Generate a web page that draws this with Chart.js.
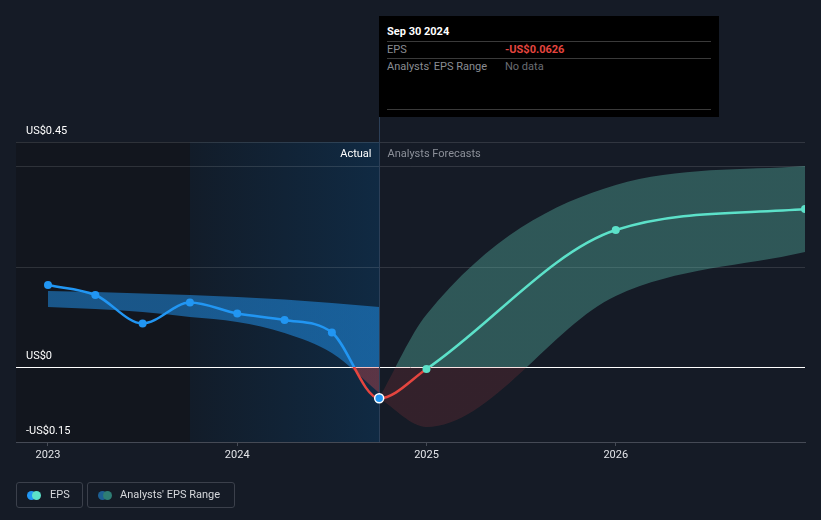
<!DOCTYPE html>
<html><head><meta charset="utf-8">
<script src="https://cdn.jsdelivr.net/npm/chart.js@4.4.1/dist/chart.umd.min.js"></script>
<style>
html,body{margin:0;padding:0;background:#151b26;width:821px;height:520px;overflow:hidden;font-family:Roboto,"Noto Sans",sans-serif;}
#wrap{position:relative;width:821px;height:520px;}
canvas{position:absolute;left:0;top:0;}
#tip{position:absolute;left:379px;top:16px;width:340px;height:101px;background:#000;color:#fff;font-size:11px;}
#tip .t{position:absolute;left:8px;top:9px;font-weight:bold;}
#tip .ln{position:absolute;left:8px;width:324px;height:1px;background:#3a3a3a;}
#tip .k{position:absolute;left:8px;color:#8a8d93;}
#tip .v{position:absolute;left:126px;}
.leg{position:absolute;top:482px;height:26px;border:1px solid #3b404b;border-radius:3px;box-sizing:border-box;color:#d6d8dc;font-size:11px;line-height:24px;}
.dot{position:absolute;top:8px;width:9px;height:9px;border-radius:50%;}
</style></head>
<body><div id="wrap">
<canvas id="c" width="821" height="520"></canvas>
<div id="tip">
 <div class="t">Sep 30 2024</div>
 <div class="ln" style="top:25px"></div>
 <div class="k" style="top:27px">EPS</div><div class="v" style="top:27px;color:#e5453f;font-weight:bold">-US$0.0626</div>
 <div class="ln" style="top:42px"></div>
 <div class="k" style="top:44px">Analysts' EPS Range</div><div class="v" style="top:44px;color:#6a6d73">No data</div>
 <div class="ln" style="top:93px"></div>
</div>
<div class="leg" style="left:16px;width:67px;"><span class="dot" style="left:10px;background:#2196f3"></span><span class="dot" style="left:15px;background:#5ce1c9"></span><span style="position:absolute;left:33px">EPS</span></div>
<div class="leg" style="left:87px;width:148px;"><span class="dot" style="left:10px;background:#1d5f93"></span><span class="dot" style="left:15px;background:#2e7d74"></span><span style="position:absolute;left:32px">Analysts' EPS Range</span></div>
</div>
<script>
const epsX = [2023.0, 2023.25, 2023.5, 2023.75, 2024.0, 2024.25, 2024.5, 2024.75, 2025.0, 2026.0, 2027.0];
const epsValues = [0.164, 0.144, 0.087, 0.129, 0.107, 0.094, 0.069, -0.0626, -0.004, 0.274, 0.316];
const pastX = [2023.0, 2023.25, 2023.5, 2023.75, 2024.0, 2024.25, 2024.5, 2024.75];
const pastBandUpper = [0.152, 0.150, 0.147, 0.144, 0.140, 0.135, 0.128, 0.120];
const pastBandLower = [0.120, 0.116, 0.110, 0.100, 0.090, 0.068, 0.028, -0.052];
const foreX = [2024.75, 2025.0, 2026.0, 2027.0];
const foreUpper = [-0.0626, 0.105, 0.364, 0.402];
const foreLower = [-0.0626, -0.120, 0.142, 0.230];
const yearTicks = [2023, 2024, 2025, 2026];
const yTicks = [-0.15, 0, 0.2, 0.4, 0.45];
const yLabelTicks = [-0.15, 0, 0.45];
const splitX = 2024.75, highlightStart = 2023.75;
const lastActualIndex = 7;

const pts = (xs, ys) => xs.map((x, i) => ({x, y: ys[i]}));
function makeGrad(ch, above, below) {
  const ca = ch.chartArea;
  if (!ca) return above;
  const y0 = ch.scales.y.getPixelForValue(0);
  const g = ch.ctx.createLinearGradient(0, ca.top, 0, ca.bottom);
  const t = Math.min(1, Math.max(0, (y0 - ca.top) / (ca.bottom - ca.top)));
  g.addColorStop(0, above); g.addColorStop(t, above);
  g.addColorStop(t, below); g.addColorStop(1, below);
  return g;
}
const zeroGrad = (above, below) => (ctx) => makeGrad(ctx.chart, above, below);
const bgPlugin = {
  id: 'bg',
  beforeDraw(ch) {
    const {ctx, chartArea: ca, scales: {x}} = ch;
    const xs = x.getPixelForValue(splitX), xh = x.getPixelForValue(highlightStart);
    ctx.save();
    ctx.fillStyle = '#12161e';
    ctx.fillRect(ca.left, ca.top, xh - ca.left, ca.bottom - ca.top);
    const g = ctx.createLinearGradient(xh, 0, xs, 0);
    g.addColorStop(0, '#121c29'); g.addColorStop(1, '#102a43');
    ctx.fillStyle = g;
    ctx.fillRect(xh, ca.top, xs - xh, ca.bottom - ca.top);
    ctx.restore();
  },
  beforeDatasetsDraw(ch) {
    const {ctx, chartArea: ca, scales: {x}} = ch;
    const xs = Math.round(x.getPixelForValue(splitX)) + 0.5;
    ctx.save();
    ctx.strokeStyle = '#2c3f57'; ctx.lineWidth = 1;
    ctx.beginPath(); ctx.moveTo(xs, 117); ctx.lineTo(xs, ca.bottom); ctx.stroke();
    ctx.font = '11px Roboto, sans-serif'; ctx.textBaseline = 'middle';
    ctx.fillStyle = '#ffffff'; ctx.textAlign = 'right';
    ctx.fillText('Actual', xs - 8, ca.top + 12);
    ctx.fillStyle = '#8c9099'; ctx.textAlign = 'left';
    ctx.fillText('Analysts Forecasts', xs + 8, ca.top + 12);
    ctx.restore();
  }
};
const hidden = {pointRadius: 0, borderWidth: 0, cubicInterpolationMode: 'monotone'};
const isFore = i => i > lastActualIndex;
new Chart(document.getElementById('c'), {
  type: 'line',
  data: {datasets: [
    {data: pts(epsX, epsValues), borderWidth: 2.5, cubicInterpolationMode: 'monotone', fill: false,
     borderColor: '#2196f3',
     segment: {borderColor: (c) => c.p0DataIndex >= lastActualIndex
        ? makeGrad(c.chart, '#5ce1c9', '#e5453f') : makeGrad(c.chart, '#2196f3', '#e5453f')},
     pointRadius: (c) => c.dataIndex === lastActualIndex ? 4.5 : 4,
     pointBackgroundColor: (c) => isFore(c.dataIndex) ? '#5ce1c9' : '#2196f3',
     pointBorderColor: (c) => c.dataIndex === lastActualIndex ? '#ffffff' : 'rgba(0,0,0,0)',
     pointBorderWidth: (c) => c.dataIndex === lastActualIndex ? 1.5 : 0, order: 0},
    {...hidden, data: pts(pastX, pastBandUpper), fill: '+1',
     backgroundColor: zeroGrad('rgba(33,150,243,0.5)', 'rgba(230,74,74,0.35)'), order: 5},
    {...hidden, data: pts(pastX, pastBandLower), fill: false, order: 5},
    {...hidden, data: pts(foreX, foreUpper), fill: '+1',
     backgroundColor: zeroGrad('rgba(100,210,190,0.33)', 'rgba(230,74,74,0.15)'), order: 5},
    {...hidden, data: pts(foreX, foreLower), fill: false, order: 5}
  ]},
  options: {
    responsive: false, animation: false, devicePixelRatio: 1,
    layout: {padding: {left: 16, right: 16, top: 142, bottom: 0}},
    plugins: {legend: {display: false}, tooltip: {enabled: false}},
    scales: {
      x: {type: 'linear', min: 2022.831, max: 2027,
        afterBuildTicks: s => { s.ticks = yearTicks.map(v => ({value: v})); },
        afterFit: s => { s.height = 78; },
        border: {display: true, color: '#454a55'},
        grid: {drawOnChartArea: false, drawTicks: true, tickLength: 4, color: '#454a55'},
        ticks: {color: '#e2e4e8', font: {size: 11, family: 'Roboto'}, padding: 3, maxRotation: 0,
          callback: v => String(v)}},
      y: {min: -0.15, max: 0.45,
        afterBuildTicks: s => { s.ticks = yTicks.map(v => ({value: v})); },
        afterFit: s => { s.width = 0; },
        border: {display: false},
        grid: {drawTicks: false, color: c => (c.tick && c.tick.value === 0) ? '#ffffff' : 'rgba(255,255,255,0.12)'},
        ticks: {mirror: true, padding: 10, labelOffset: -11, color: '#ffffff', font: {size: 11, family: 'Roboto'},
          callback: v => yLabelTicks.includes(v) ? (v < 0 ? '-US$' + Math.abs(v) : 'US$' + v) : ''}}
    }
  },
  plugins: [bgPlugin]
});
</script></body></html>
